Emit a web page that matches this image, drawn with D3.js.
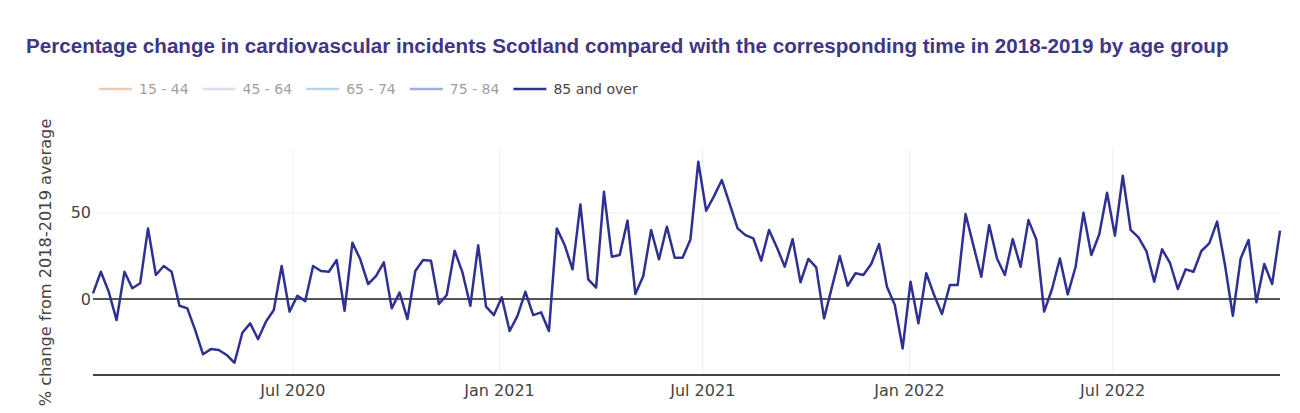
<!DOCTYPE html>
<html>
<head>
<meta charset="utf-8">
<script src="https://cdn.jsdelivr.net/npm/d3@7"></script>
<style>
  html, body { margin: 0; padding: 0; background: #fff; }
  svg { display: block; }
</style>
</head>
<body>
<svg id="chart" width="1300" height="413"></svg>
<script>
// ---- Data ----
const titleText = "Percentage change in cardiovascular incidents Scotland compared with the corresponding time in 2018-2019 by age group";
const yAxisTitle = "% change from 2018-2019 average";
const seriesNames = ["15 - 44", "45 - 64", "65 - 74", "75 - 84", "85 and over"];
const seriesColors = ["#EDCAB0", "#DDDEF0", "#B3D5EE", "#9EB1DB", "#2E3192"];
const seriesVisible = [false, false, false, false, true];
const firstWeek = "2020-01-05";
const values85 = [
  3.3, 15.8, 4.2, -12.2, 15.8, 6.2, 9.1, 40.9, 13.9, 19.1,
  15.8, -3.9, -5.4, -18, -32, -29, -29.5, -32.4, -36.9, -19.5,
  -14.1, -23.2, -13.1, -6.4, 19.1, -7.3, 1.9, -1.2, 19.1, 16.2,
  15.8, 22.6, -6.8, 32.6, 23, 8.7, 13.3, 21.2, -5.4, 3.7,
  -11.6, 16.2, 22.6, 22.2, -2.9, 2.3, 28, 15.4, -3.9, 31.1,
  -4.4, -9.3, 1, -18.5, -9.8, 4.2, -9.3, -7.7, -18.5, 40.9,
  31.3, 17.2, 54.8, 11.4, 6.6, 62.1, 24.5, 25.5, 45.4, 2.9,
  13.3, 40, 23, 41.9, 23.9, 23.9, 34.5, 79.5, 51.1, 59.6,
  68.9, 55, 40.9, 37, 35.1, 22.2, 40, 29.9, 18.7, 34.7,
  9.7, 23.2, 18.3, -11.2, 6.9, 24.9, 7.7, 14.9, 13.9, 20.3,
  31.8, 7.1, -3.5, -28.6, 10, -14.1, 14.9, 2.3, -8.7, 8.1,
  8.1, 49.2, 30.9, 12.9, 42.8, 23.5, 13.9, 34.7, 18.7, 45.7,
  34.5, -7.3, 5.8, 23.5, 2.7, 18.7, 50, 25.5, 37.4, 61.6,
  36.7, 71.4, 40, 35.7, 27.8, 10, 28.8, 21, 5.8, 17.2,
  15.8, 27.8, 32.2, 44.8, 19.7, -9.7, 23.5, 34.2, -1.9, 20.3,
  8.7, 39.6
];
const yTicks = [0, 50];
const yDomain = [-44, 86.3];

// ---- Build ----
const parse = d3.utcParse("%Y-%m-%d");
const start = parse(firstWeek);
const data = values85.map((v, i) => ({ date: d3.utcDay.offset(start, 7 * i), value: v }));

const svg = d3.select("#chart");
const plotLeft = 93, plotTop = 150, plotRight = 1280, plotBottom = 375;

const x = d3.scaleUtc()
  .domain(d3.extent(data, d => d.date))
  .range([plotLeft, plotRight]);
const y = d3.scaleLinear()
  .domain(yDomain)
  .range([plotBottom, plotTop]);

const font = "'DejaVu Sans', Verdana, sans-serif";

// Title (sized to span the same width as the reference)
const title = svg.append("text")
  .attr("x", 26).attr("y", 53)
  .attr("font-family", "'Liberation Sans', Arial, sans-serif")
  .attr("font-weight", "bold")
  .attr("font-size", 20.4)
  .attr("fill", "#3F3685")
  .text(titleText);
const tw = title.node().getComputedTextLength();
title.attr("font-size", 20.4 * 1203 / tw);

// Grid: vertical
const xTickVals = x.ticks(d3.utcMonth.every(6));
svg.append("g").selectAll("line").data(xTickVals).join("line")
  .attr("x1", d => x(d)).attr("x2", d => x(d))
  .attr("y1", plotTop).attr("y2", plotBottom)
  .attr("stroke", "#eeeeee").attr("stroke-width", 1);

// Grid: horizontal
svg.append("g").selectAll("line").data(yTicks.filter(t => t !== 0)).join("line")
  .attr("x1", plotLeft).attr("x2", plotRight)
  .attr("y1", d => y(d)).attr("y2", d => y(d))
  .attr("stroke", "#eeeeee").attr("stroke-width", 1);

// Zero line
svg.append("line")
  .attr("x1", plotLeft).attr("x2", plotRight)
  .attr("y1", y(0)).attr("y2", y(0))
  .attr("stroke", "#555").attr("stroke-width", 1.8);

// X axis line
svg.append("line")
  .attr("x1", plotLeft).attr("x2", plotRight)
  .attr("y1", plotBottom).attr("y2", plotBottom)
  .attr("stroke", "#444").attr("stroke-width", 1.8);

// X tick labels
const fmt = d3.utcFormat("%b %Y");
svg.append("g").selectAll("text").data(xTickVals).join("text")
  .attr("x", d => x(d)).attr("y", 396)
  .attr("text-anchor", "middle")
  .attr("font-family", font).attr("font-size", 16)
  .attr("fill", "#444")
  .text(d => fmt(d));

// Y tick labels
svg.append("g").selectAll("text").data(yTicks).join("text")
  .attr("x", 91).attr("y", d => y(d))
  .attr("dy", "0.36em")
  .attr("text-anchor", "end")
  .attr("font-family", font).attr("font-size", 16)
  .attr("fill", "#444")
  .text(d => d);

// Y axis title
svg.append("text")
  .attr("transform", `translate(45, ${(plotTop + plotBottom) / 2}) rotate(-90)`)
  .attr("text-anchor", "middle")
  .attr("dominant-baseline", "central")
  .attr("font-family", font).attr("font-size", 16.2)
  .attr("fill", "#444")
  .text(yAxisTitle);

// Line
const line = d3.line().x(d => x(d.date)).y(d => y(d.value));
svg.append("path")
  .datum(data)
  .attr("d", line)
  .attr("fill", "none")
  .attr("stroke", seriesColors[4])
  .attr("stroke-width", 2.5)
  .attr("stroke-linejoin", "round");

// Legend
const legend = svg.append("g");
let lx = 99;
const ly = 89;
seriesNames.forEach((name, i) => {
  const g = legend.append("g");
  g.append("line")
    .attr("x1", lx).attr("x2", lx + 33)
    .attr("y1", ly).attr("y2", ly)
    .attr("stroke", seriesColors[i])
    .attr("stroke-width", 2.4);
  const t = g.append("text")
    .attr("x", lx + 40).attr("y", ly)
    .attr("dy", "0.36em")
    .attr("font-family", font).attr("font-size", 14)
    .attr("fill", seriesVisible[i] ? "#444" : "#a0a0a0")
    .text(name);
  lx += 40 + t.node().getComputedTextLength() + 14;
});
</script>
</body>
</html>
